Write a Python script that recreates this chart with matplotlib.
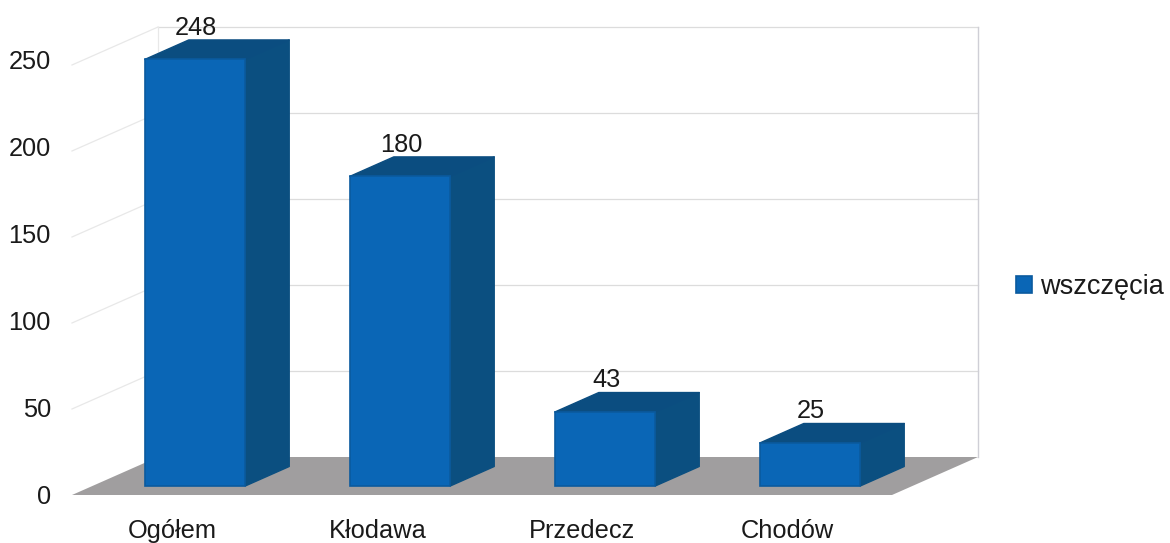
import matplotlib
matplotlib.use("Agg")
import matplotlib.pyplot as plt
from matplotlib.patches import Polygon

plt.rcParams['font.family'] = ['Liberation Sans', 'DejaVu Sans']

categories = ["Ogółem", "Kłodawa", "Przedecz", "Chodów"]
values = [248, 180, 43, 25]
series_name = "wszczęcia"
y_ticks = [0, 50, 100, 150, 200, 250]

W, H = 1170, 543
PX_X, PX_Y = 205.0, 1.72          # pixels per category / per value unit
L, R, T, B = 55, 1000, 10, 505    # axes box in pixels
X0_PX, Y0_PX = 195, 486           # pixel of category 0 / value 0

BAR_W = 0.49
BAR_DX, BAR_DY = 44 / PX_X, 19.5 / PX_Y
WALL_DX, WALL_DY = 86 / PX_X, 38 / PX_Y
FLOOR_Y = -9 / PX_Y
X_LEFT, X_RIGHT = -0.6, 3.4
LABEL_SCALE = 1.012               # axis labels sit on a slightly larger scale than the bars

C_FRONT, C_EDGE, C_SIDE, C_TOP = "#0a66b6", "#0a5a9e", "#0b4f80", "#0b4d80"
C_FLOOR, C_GRID, C_GRID_L, C_WALL = "#a09e9f", "#dcdcdc", "#e8e8e8", "#cfcfd6"
TEXT = "#1a1a1a"
FS = 18.3

fig = plt.figure(figsize=(W / 100, H / 100), dpi=100, facecolor="white")
ax = fig.add_axes([L / W, 1 - B / H, (R - L) / W, (B - T) / H])
ax.set_xlim((L - X0_PX) / PX_X, (R - X0_PX) / PX_X)
ax.set_ylim((Y0_PX - B) / PX_Y, (Y0_PX - T) / PX_Y)
for s in ax.spines.values():
    s.set_visible(False)
ax.patch.set_alpha(0)

# Back and side walls with gridlines
bx0, bx1 = X_LEFT + WALL_DX, X_RIGHT + WALL_DX
by0 = FLOOR_Y + WALL_DY
for v in y_ticks[1:]:
    ax.plot([X_LEFT, bx0], [FLOOR_Y + v, by0 + v], color=C_GRID_L, lw=0.9, zorder=1)
    ax.plot([bx0, bx1], [by0 + v, by0 + v], color=C_GRID, lw=0.9, zorder=1)
ax.plot([bx0, bx0], [by0, by0 + y_ticks[-1]], color=C_GRID_L, lw=0.9, zorder=1)
ax.plot([bx1, bx1], [by0, by0 + y_ticks[-1]], color=C_WALL, lw=1.0, zorder=1)

# Floor
ax.add_patch(Polygon([(X_LEFT, FLOOR_Y), (X_RIGHT, FLOOR_Y), (bx1, by0), (bx0, by0)],
                     closed=True, fc=C_FLOOR, ec="none", zorder=2))

# Bars: front through bar(), depth faces derived from the same values
xs = list(range(len(categories)))
for x, v in zip(xs, values):
    l, r = x - BAR_W / 2, x + BAR_W / 2
    ax.add_patch(Polygon([(r, 0), (r + BAR_DX, BAR_DY), (r + BAR_DX, v + BAR_DY), (r, v)],
                         closed=True, fc=C_SIDE, ec=C_SIDE, lw=1, joinstyle="round", zorder=3))
    ax.add_patch(Polygon([(l, v), (r, v), (r + BAR_DX, v + BAR_DY), (l + BAR_DX, v + BAR_DY)],
                         closed=True, fc=C_TOP, ec=C_TOP, lw=1, joinstyle="round", zorder=3))
ax.bar(xs, values, width=BAR_W, color=C_FRONT, edgecolor=C_EDGE, linewidth=1.2,
       label=series_name, zorder=4)

# Value labels
for x, v in zip(xs, values):
    ax.text(x + 0.005, v + 18.5, str(v), ha="center", va="center", fontsize=FS,
            color=TEXT, zorder=5)

# Axis labels
ax.set_yticks([FLOOR_Y + v * LABEL_SCALE for v in y_ticks], [str(v) for v in y_ticks])
ax.set_xticks([x - 0.11 for x in xs], categories)
ax.tick_params(axis="y", length=0, pad=3, labelsize=FS, labelcolor=TEXT)
ax.tick_params(axis="x", length=0, pad=10, labelsize=FS, labelcolor=TEXT)

# Legend
ax.legend(loc="center left", bbox_to_anchor=(1016 / W, 1 - 287 / H),
          bbox_transform=fig.transFigure, frameon=False, fontsize=19.5,
          handlelength=0.59, handleheight=0.59, handletextpad=0.3,
          borderpad=0, borderaxespad=0, labelcolor=TEXT)

fig.savefig("out.png", dpi=100, facecolor="white")
